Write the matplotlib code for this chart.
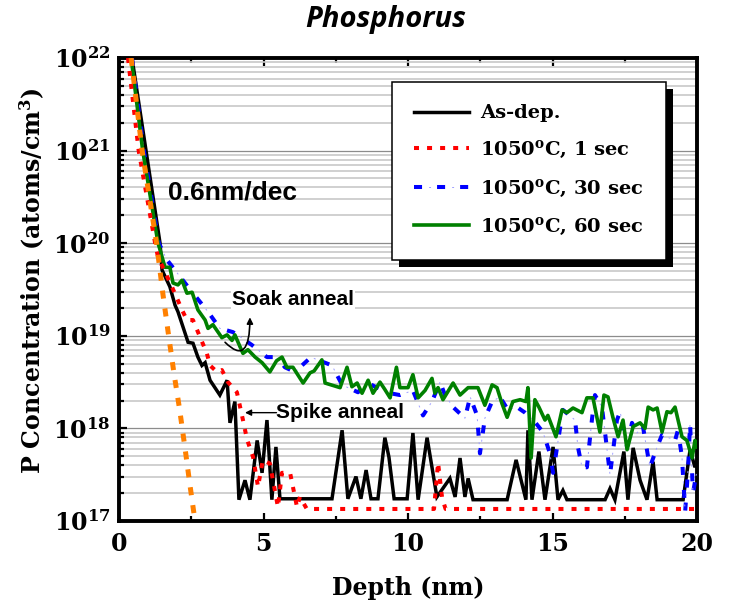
import matplotlib
matplotlib.use("Agg")
import matplotlib.pyplot as plt
import numpy as np
from matplotlib.patches import Rectangle
from matplotlib.ticker import LogLocator, NullFormatter

plt.rcParams["lines.scale_dashes"] = False
plt.rcParams["font.family"] = "DejaVu Serif"
plt.rcParams["font.weight"] = "bold"
plt.rcParams["axes.labelweight"] = "bold"
plt.rcParams["mathtext.fontset"] = "dejavuserif"

# depth in nm, concentration given as log10(atoms/cm^3)
asdep_depth = [0.45, 1.42, 1.49, 1.76, 1.94, 2.04, 2.21, 2.39, 2.56, 2.73,
               2.87, 2.98, 3.15, 3.49, 3.74, 3.84, 4.01, 4.15, 4.36, 4.53,
               4.78, 4.95, 5.12, 5.29, 5.43, 5.57, 7.37, 7.72, 7.92, 8.20,
               8.37, 8.55, 8.72, 8.96, 9.20, 9.34, 9.52, 9.97, 10.17, 10.35,
               10.66, 11.00, 11.45, 11.63, 11.80, 11.97, 12.08, 12.25, 13.43, 13.74,
               14.08, 14.15, 14.29, 14.53, 14.74, 15.02, 15.19, 15.36, 15.50, 16.82,
               16.99, 17.16, 17.47, 17.61, 17.79, 18.03, 18.27, 18.48, 18.62, 19.52,
               19.76, 19.93, 20.0]
asdep_log = [22.0, 20.0, 19.71, 19.53, 19.33, 19.26, 19.10, 18.93, 18.92, 18.77,
             18.68, 18.71, 18.52, 18.36, 18.52, 18.06, 18.29, 17.23, 17.44, 17.23,
             17.87, 17.52, 18.09, 17.23, 17.80, 17.24, 17.24, 17.98, 17.24, 17.48,
             17.24, 17.55, 17.24, 17.24, 17.90, 17.69, 17.24, 17.24, 17.95, 17.23,
             17.90, 17.26, 17.46, 17.26, 17.68, 17.26, 17.46, 17.23, 17.23, 17.66,
             17.23, 17.98, 17.23, 17.75, 17.23, 17.80, 17.23, 17.33, 17.23, 17.23,
             17.35, 17.23, 17.75, 17.23, 17.79, 17.44, 17.23, 17.64, 17.23, 17.23,
             17.77, 17.58, 17.65]

sec1_depth = [0.31, 0.68, 1.25, 1.35, 1.83, 2.00, 2.18, 2.35, 2.56, 2.80,
              3.04, 3.15, 3.39, 3.56, 3.77, 4.08, 4.29, 4.43, 4.64, 4.81,
              4.98, 5.22, 5.50, 5.64, 5.92, 6.16, 6.26, 6.50, 10.90, 11.04,
              11.18, 11.30, 20.0]
sec1_log = [22.0, 21.0, 20.0, 19.85, 19.53, 19.41, 19.28, 19.17, 19.17, 18.99,
            18.81, 18.68, 18.61, 18.63, 18.50, 18.39, 18.09, 17.88, 17.69, 17.37,
            17.66, 17.62, 17.15, 17.52, 17.52, 17.15, 17.26, 17.13, 17.13, 17.63,
            17.25, 17.13, 17.13]

sec30_depth = [0.45, 0.86, 1.38, 1.66, 2.56, 3.08, 3.49, 3.94, 4.19, 4.60,
               5.12, 5.47, 5.74, 6.09, 6.61, 6.71, 7.37, 7.72, 8.27, 8.58,
               8.86, 9.38, 9.72, 10.17, 10.52, 10.83, 11.11, 11.28, 11.56, 11.97,
               12.15, 12.39, 12.49, 12.66, 12.91, 13.18, 13.46, 13.77, 14.05, 14.39,
               14.67, 14.91, 15.02, 15.36, 15.78, 15.88, 16.02, 16.19, 16.37, 16.47,
               16.71, 16.82, 16.99, 17.23, 17.34, 17.58, 17.75, 17.92, 18.13, 18.37,
               18.62, 18.79, 19.24, 19.34, 19.48, 19.59, 19.69, 19.76, 19.86, 20.0]
sec30_log = [22.0, 21.0, 20.0, 19.82, 19.46, 19.26, 19.08, 19.04, 18.99, 18.90,
             18.77, 18.77, 18.66, 18.61, 18.76, 18.76, 18.68, 18.47, 18.39, 18.50,
             18.45, 18.38, 18.36, 18.41, 18.14, 18.29, 18.50, 18.36, 18.23, 18.11,
             18.34, 18.14, 17.73, 18.11, 18.29, 18.34, 18.20, 18.23, 18.17, 18.07,
             17.96, 17.73, 17.52, 18.20, 18.09, 17.80, 17.58, 17.58, 18.11, 18.36,
             18.23, 17.95, 17.50, 18.09, 18.18, 17.80, 18.06, 17.95, 18.02, 17.58,
             17.80, 17.93, 17.87, 17.98, 17.69, 17.10, 17.55, 18.06, 17.30, 17.55]

sec60_depth = [0.42, 0.82, 1.35, 1.42, 1.59, 1.76, 1.87, 2.04, 2.18, 2.35,
               2.53, 2.73, 2.98, 3.08, 3.25, 3.56, 3.74, 3.91, 4.01, 4.19,
               4.29, 4.46, 4.71, 4.95, 5.22, 5.45, 5.64, 5.81, 6.02, 6.37,
               6.61, 6.75, 7.02, 7.13, 7.65, 7.89, 8.06, 8.24, 8.41, 8.62,
               8.79, 9.03, 9.20, 9.38, 9.60, 9.72, 10.00, 10.17, 10.35, 10.59,
               10.83, 10.93, 11.04, 11.21, 11.56, 11.80, 12.08, 12.42, 12.66, 12.91,
               13.08, 13.25, 13.43, 13.63, 13.88, 14.08, 14.15, 14.26, 14.39, 14.53,
               14.74, 14.84, 15.12, 15.33, 15.50, 15.71, 16.02, 16.19, 16.40, 16.64,
               16.78, 16.92, 17.09, 17.27, 17.44, 17.58, 17.79, 18.03, 18.20, 18.31,
               18.48, 18.62, 18.79, 18.96, 19.10, 19.24, 19.48, 19.65, 19.83, 19.93,
               20.0]
sec60_log = [22.0, 21.0, 20.0, 19.93, 19.74, 19.74, 19.57, 19.55, 19.60, 19.46,
             19.47, 19.28, 19.17, 19.08, 19.12, 18.98, 19.01, 18.95, 19.01, 18.88,
             18.81, 18.85, 18.77, 18.71, 18.61, 18.73, 18.77, 18.66, 18.66, 18.49,
             18.60, 18.62, 18.74, 18.49, 18.44, 18.66, 18.45, 18.49, 18.38, 18.52,
             18.38, 18.50, 18.42, 18.33, 18.66, 18.44, 18.44, 18.58, 18.33, 18.41,
             18.54, 18.38, 18.44, 18.31, 18.49, 18.36, 18.44, 18.44, 18.25, 18.47,
             18.44, 18.27, 18.12, 18.29, 18.31, 18.29, 18.44, 17.68, 18.31, 18.23,
             18.09, 18.14, 17.91, 18.20, 18.17, 18.22, 18.17, 18.33, 18.33, 17.96,
             18.36, 18.34, 18.12, 17.91, 18.09, 17.77, 18.02, 18.06, 18.00, 18.23,
             18.20, 18.22, 17.96, 18.18, 18.17, 18.23, 17.91, 17.87, 17.68, 17.87,
             17.80]

# 0.6 nm/dec reference slope
slope_depth = [0.42, 0.80, 1.30, 1.52, 1.70, 1.90, 2.10, 2.30, 2.45, 2.63, 2.70]
slope_log = [22.0, 21.0, 20.0, 19.45, 19.04, 18.60, 18.20, 17.75, 17.40, 17.00, 16.85]

series_labels = ["As-dep.", r"1050$^{\mathbf{o}}$C, 1 sec",
                 r"1050$^{\mathbf{o}}$C, 30 sec", r"1050$^{\mathbf{o}}$C, 60 sec"]
xtick_values = [0, 5, 10, 15, 20]
xtick_minor = [2.5, 7.5, 12.5, 17.5]
ytick_exponents = [17, 18, 19, 20, 21, 22]


def conc(logs):
    return np.power(10.0, logs)


fig = plt.figure(figsize=(7.29, 6.06), dpi=100)
ax = fig.add_axes([119 / 729, 85 / 606, 578 / 729, 463 / 606])

ax.set_yscale("log")
ax.set_xlim(0, 20)
ax.set_ylim(1e17, 1e22)

black, = ax.plot(asdep_depth, conc(asdep_log), color="black", lw=2.5, zorder=3,
                 solid_joinstyle="miter")
blue_thick, = ax.plot(sec30_depth, conc(sec30_log), color="#0000ff", lw=2.9,
                      linestyle=(0, (5.8, 10.8)), zorder=3)
blue_thin, = ax.plot(sec30_depth, conc(sec30_log), color="#a0a0ff", lw=0.7,
                     linestyle=(6.1, (1.4, 15.2)), zorder=3)
green, = ax.plot(sec60_depth, conc(sec60_log), color="#008000", lw=2.6, zorder=4)
red, = ax.plot(sec1_depth, conc(sec1_log), color="#ff0000", lw=2.9,
               linestyle=(0, (3.6, 5.8)), zorder=4)
ax.plot(slope_depth, conc(slope_log), color="#ff8000", lw=3.6,
        linestyle=(0, (5.8, 7.2)), zorder=4)

# axes styling
ax.set_xticks(xtick_values)
ax.set_xticks(xtick_minor, minor=True)
ax.set_yticks([10.0 ** e for e in ytick_exponents],
              [r"$\mathbf{10^{%d}}$" % e for e in ytick_exponents])
ax.yaxis.set_minor_locator(LogLocator(base=10, subs=np.arange(2, 10)))
ax.yaxis.set_minor_formatter(NullFormatter())
ax.tick_params(which="both", direction="in", top=True, right=False, width=1.6,
               labelsize=17)
ax.tick_params(axis="x", pad=8)
ax.tick_params(axis="y", pad=6)
ax.tick_params(which="major", length=6)
ax.tick_params(which="minor", length=3.5)
for spine in ax.spines.values():
    spine.set_linewidth(2.8)

ax.grid(True, axis="y", which="major", color="#8c8c8c", lw=0.9, zorder=0)
ax.grid(True, axis="y", which="minor", color="#c8c8c8", lw=1.2, zorder=0)
ax.set_axisbelow(True)

ax.set_xlabel("Depth (nm)", fontsize=17, fontweight="bold", labelpad=14)
ax.set_ylabel(r"P Concentration (atoms/cm$^{\mathbf{3}}$)", fontsize=17,
              fontweight="bold")
ax.yaxis.set_label_coords(-0.125, 0.52)

fig.text(386 / 729, 1 - 19 / 606, "Phosphorus", family="Open Sans", style="italic",
         weight="bold", fontsize=21, ha="center", va="center")

# annotations
sans = dict(family="Liberation Sans", weight="bold")
ax.text(1.70, conc(20.55), "0.6nm/dec", fontsize=19, va="center", **sans)
ax.text(6.02, conc(19.39), "Soak anneal", fontsize=15, ha="center", va="center",
        bbox=dict(facecolor="white", edgecolor="none", pad=1), zorder=5, **sans)
ax.text(7.65, conc(18.17), "Spike anneal", fontsize=15, ha="center", va="center",
        bbox=dict(facecolor="white", edgecolor="none", pad=1), zorder=5, **sans)
ax.annotate("", xy=(4.36, conc(18.17)), xytext=(5.45, conc(18.17)),
            arrowprops=dict(arrowstyle="-|>", color="black", lw=1.0,
                            mutation_scale=9, shrinkA=0, shrinkB=0), zorder=6)
ax.annotate("", xy=(4.53, conc(19.20)), xytext=(3.67, conc(18.93)),
            arrowprops=dict(arrowstyle="-|>", color="black", lw=1.2,
                            mutation_scale=9, shrinkA=0, shrinkB=0,
                            connectionstyle="angle3,angleA=-45,angleB=90"),
            zorder=6)

leg = ax.legend([black, red, (blue_thick, blue_thin), green], series_labels,
                loc="upper left", bbox_to_anchor=(0.472, 0.948), borderaxespad=0,
                fontsize=14, handlelength=2.8, handletextpad=0.6, labelspacing=0.85,
                borderpad=1.15, fancybox=False, framealpha=1, edgecolor="black")
leg.get_frame().set_linewidth(1.1)
leg.set_zorder(7)

# solid black drop shadow offset down-right
fig.canvas.draw()
bb = leg.get_frame().get_window_extent()
inv = ax.transAxes.inverted()
x0, y0 = inv.transform((bb.x0 + 7, bb.y0 - 7))
x1, y1 = inv.transform((bb.x1 + 7, bb.y1 - 7))
ax.add_patch(Rectangle((x0, y0), x1 - x0, y1 - y0, transform=ax.transAxes,
                       facecolor="black", edgecolor="none", zorder=6.9, clip_on=False))

fig.savefig("out.png", dpi=100)
